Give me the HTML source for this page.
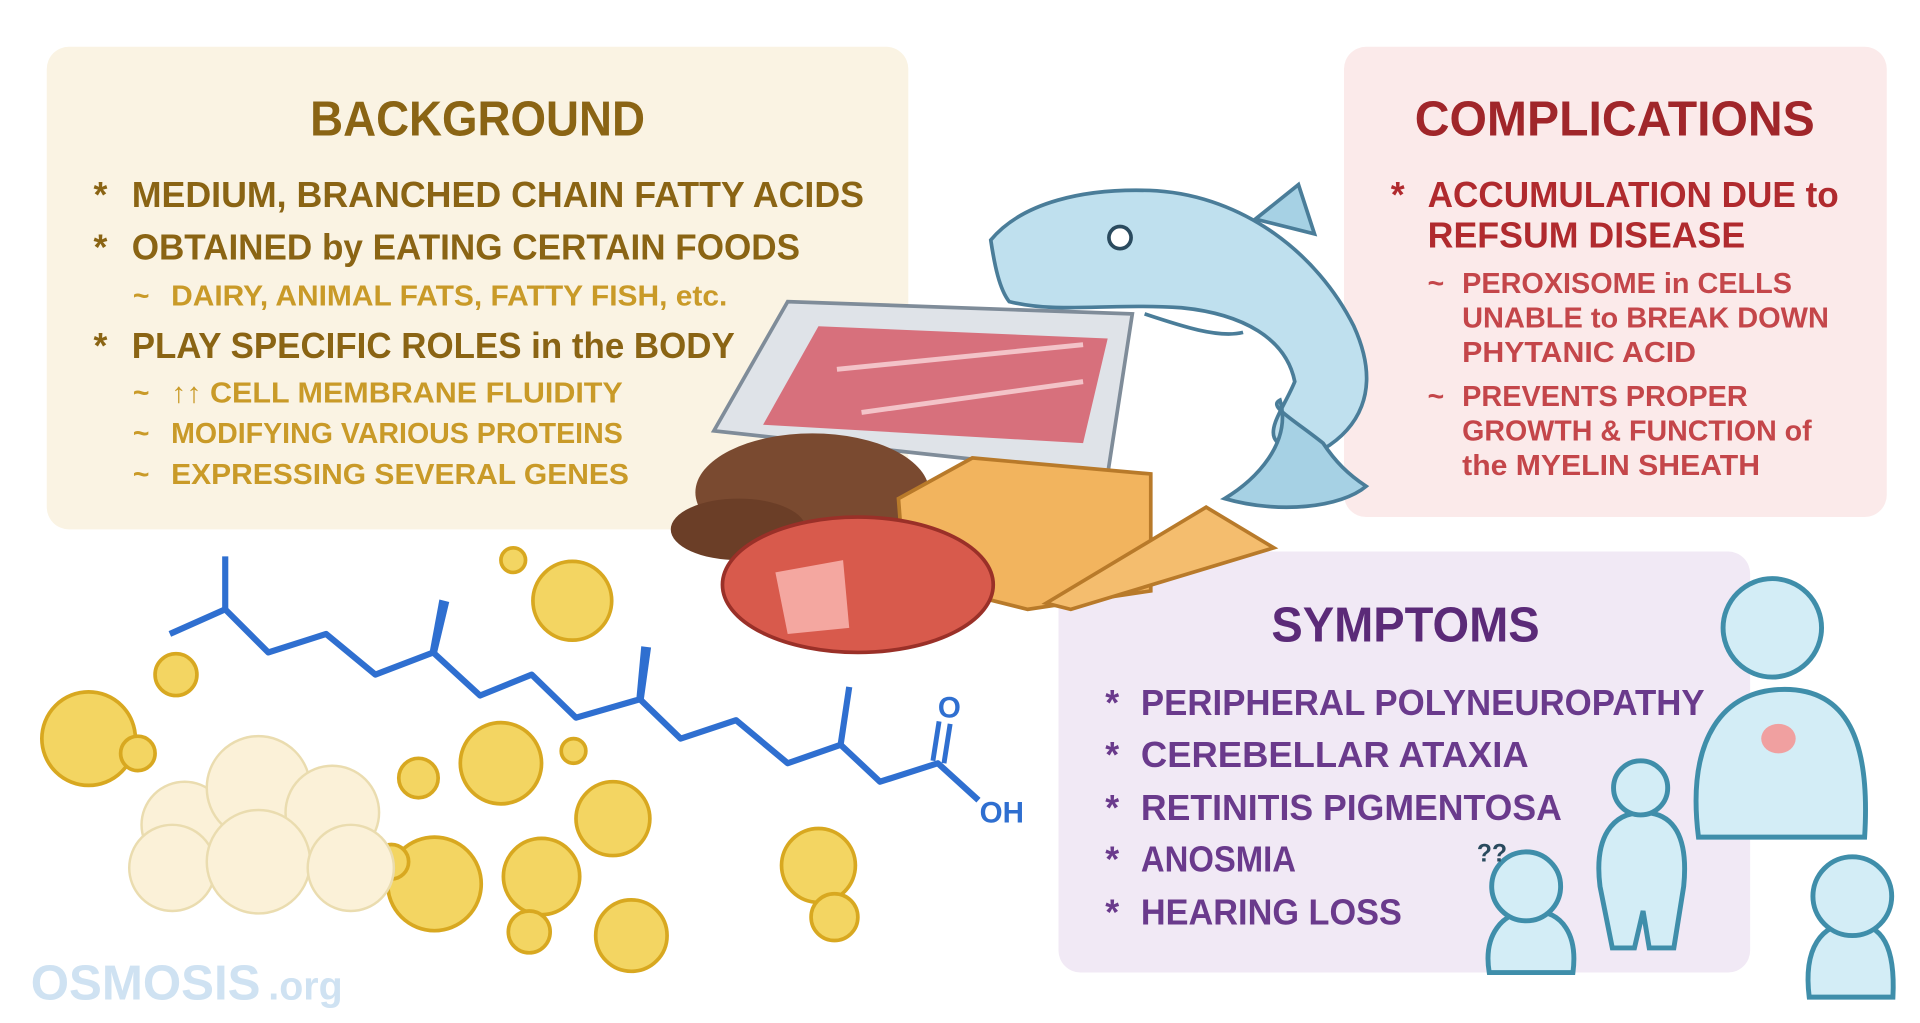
<!DOCTYPE html>
<html><head><meta charset="utf-8"><style>
html,body{margin:0;padding:0;background:#fff;}
svg{display:block;}
text{font-family:"Liberation Sans",sans-serif;font-weight:bold;}
</style></head><body>
<svg width="1920" height="1023" viewBox="0 0 1560 831" preserveAspectRatio="none">
<rect width="1560" height="831" fill="#fff"/>
<!-- boxes -->
<rect x="38" y="38" width="700" height="392" rx="18" fill="#faf3e3"/>
<rect x="1092" y="38" width="441" height="382" rx="18" fill="#fbeaea"/>
<rect x="860" y="448" width="562" height="342" rx="18" fill="#f1e9f5"/>

<!-- Background text -->
<text x="388" y="110" text-anchor="middle" font-size="40" fill="#8a6414" textLength="272" lengthAdjust="spacingAndGlyphs">BACKGROUND</text>
<g fill="#8a6414" font-size="29">
<text x="76" y="168">*</text><text x="107" y="168" textLength="595" lengthAdjust="spacingAndGlyphs">MEDIUM, BRANCHED CHAIN FATTY ACIDS</text>
<text x="76" y="211">*</text><text x="107" y="211" textLength="543" lengthAdjust="spacingAndGlyphs">OBTAINED by EATING CERTAIN FOODS</text>
<text x="76" y="291">*</text><text x="107" y="291" textLength="490" lengthAdjust="spacingAndGlyphs">PLAY SPECIFIC ROLES in the BODY</text>
</g>
<g fill="#c99a28" font-size="23">
<text x="108" y="248">~</text><text x="139" y="248" textLength="452" lengthAdjust="spacingAndGlyphs">DAIRY, ANIMAL FATS, FATTY FISH, etc.</text>
<text x="108" y="327">~</text><text x="139" y="327" textLength="367" lengthAdjust="spacingAndGlyphs">↑↑ CELL MEMBRANE FLUIDITY</text>
<text x="108" y="360">~</text><text x="139" y="360" textLength="367" lengthAdjust="spacingAndGlyphs">MODIFYING VARIOUS PROTEINS</text>
<text x="108" y="393">~</text><text x="139" y="393" textLength="372" lengthAdjust="spacingAndGlyphs">EXPRESSING SEVERAL GENES</text>
</g>

<!-- Complications -->
<text x="1312" y="110" text-anchor="middle" font-size="40" fill="#a0262a" textLength="325" lengthAdjust="spacingAndGlyphs">COMPLICATIONS</text>
<g fill="#b02a2e" font-size="29">
<text x="1130" y="168">*</text><text x="1160" y="168" textLength="334" lengthAdjust="spacingAndGlyphs">ACCUMULATION DUE to</text>
<text x="1160" y="201" textLength="258" lengthAdjust="spacingAndGlyphs">REFSUM DISEASE</text>
</g>
<g fill="#c4464a" font-size="23">
<text x="1160" y="238">~</text><text x="1188" y="238" textLength="268" lengthAdjust="spacingAndGlyphs">PEROXISOME in CELLS</text>
<text x="1188" y="266" textLength="298" lengthAdjust="spacingAndGlyphs">UNABLE to BREAK DOWN</text>
<text x="1188" y="294" textLength="190" lengthAdjust="spacingAndGlyphs">PHYTANIC ACID</text>
<text x="1160" y="330">~</text><text x="1188" y="330" textLength="232" lengthAdjust="spacingAndGlyphs">PREVENTS PROPER</text>
<text x="1188" y="358" textLength="284" lengthAdjust="spacingAndGlyphs">GROWTH &amp; FUNCTION of</text>
<text x="1188" y="386" textLength="242" lengthAdjust="spacingAndGlyphs">the MYELIN SHEATH</text>
</g>

<!-- Symptoms -->
<text x="1142" y="521" text-anchor="middle" font-size="40" fill="#5b2a78" textLength="218" lengthAdjust="spacingAndGlyphs">SYMPTOMS</text>
<g fill="#6a3a8c" font-size="29">
<text x="898" y="581">*</text><text x="927" y="581" textLength="458" lengthAdjust="spacingAndGlyphs">PERIPHERAL POLYNEUROPATHY</text>
<text x="898" y="623">*</text><text x="927" y="623" textLength="315" lengthAdjust="spacingAndGlyphs">CEREBELLAR ATAXIA</text>
<text x="898" y="666">*</text><text x="927" y="666" textLength="342" lengthAdjust="spacingAndGlyphs">RETINITIS PIGMENTOSA</text>
<text x="898" y="708">*</text><text x="927" y="708" textLength="126" lengthAdjust="spacingAndGlyphs">ANOSMIA</text>
<text x="898" y="751">*</text><text x="927" y="751" textLength="212" lengthAdjust="spacingAndGlyphs">HEARING LOSS</text>
</g>

<!-- food: tray -->
<polygon points="580,350 640,245 920,255 900,385" fill="#dfe3e8" stroke="#7f8c99" stroke-width="3"/>
<polygon points="620,345 665,265 900,275 880,360" fill="#d7707c"/>
<line x1="680" y1="300" x2="880" y2="280" stroke="#f3c3c8" stroke-width="4"/>
<line x1="700" y1="335" x2="880" y2="310" stroke="#f3c3c8" stroke-width="4"/>
<!-- fish -->
<polygon points="1020,178 1055,150 1068,190" fill="#a6d1e4" stroke="#4a7d99" stroke-width="3"/>
<path d="M805,195 C830,165 880,152 940,155 C1010,160 1070,205 1100,265 C1125,320 1100,350 1075,365 C1010,368 1040,340 1052,310 C1045,275 1010,255 960,250 C900,246 860,255 820,245 C812,235 808,215 805,195 Z" fill="#bfe0ee" stroke="#4a7d99" stroke-width="3"/>
<path d="M1075,360 C1050,340 1030,330 1040,325 C1050,360 1020,390 995,405 C1040,418 1090,412 1110,395 C1095,385 1085,375 1075,360 Z" fill="#a6d1e4" stroke="#4a7d99" stroke-width="3"/>
<path d="M930,255 C960,265 990,275 1010,270" fill="none" stroke="#4a7d99" stroke-width="3"/>
<circle cx="910" cy="193" r="9" fill="#fff" stroke="#2a4a5e" stroke-width="3"/>
<!-- ground meat -->
<ellipse cx="660" cy="400" rx="95" ry="48" fill="#7a4a30"/>
<ellipse cx="600" cy="430" rx="55" ry="25" fill="#6b3e27"/>
<!-- cheese block -->
<polygon points="730,405 790,372 935,385 935,480 835,495 735,470" fill="#f2b45e" stroke="#b87a2a" stroke-width="3"/>
<polygon points="850,490 980,412 1035,445 870,495" fill="#f4bd6e" stroke="#b87a2a" stroke-width="3"/>
<!-- wheel cheese -->
<ellipse cx="697" cy="475" rx="110" ry="55" fill="#d85a4c" stroke="#9a3028" stroke-width="3"/>
<polygon points="630,465 685,455 690,510 640,515" fill="#f4a7a0"/>

<!-- molecule -->
<polyline points="138,515 183,495 218,530 265,515 305,548 352,530 390,565 432,548 468,583 520,568 553,600 598,585 640,620 683,605 715,635 762,620 795,650" fill="none" stroke="#2f6fd0" stroke-width="5" stroke-linejoin="round"/>
<line x1="183" y1="495" x2="183" y2="452" stroke="#2f6fd0" stroke-width="5"/>
<polygon points="349,530 357,487 365,489 355,531" fill="#2f6fd0"/>
<polygon points="517,568 521,525 529,526 523,569" fill="#2f6fd0"/>
<line x1="683" y1="605" x2="690" y2="558" stroke="#2f6fd0" stroke-width="5"/>
<line x1="758" y1="618" x2="763" y2="586" stroke="#2f6fd0" stroke-width="4"/>
<line x1="767" y1="620" x2="772" y2="588" stroke="#2f6fd0" stroke-width="4"/>
<text x="762" y="583" font-size="24" fill="#2f6fd0">O</text>
<text x="796" y="668" font-size="24" fill="#2f6fd0">OH</text>

<!-- fat blobs -->
<g fill="#f3d562" stroke="#d8a820" stroke-width="3">
<circle cx="417" cy="455" r="10"/><circle cx="465" cy="488" r="32"/><circle cx="143" cy="548" r="17"/>
<circle cx="72" cy="600" r="38"/><circle cx="112" cy="612" r="14"/><circle cx="340" cy="632" r="16"/>
<circle cx="407" cy="620" r="33"/><circle cx="466" cy="610" r="10"/><circle cx="498" cy="665" r="30"/>
<circle cx="353" cy="718" r="38"/><circle cx="318" cy="700" r="14"/><circle cx="440" cy="712" r="31"/>
<circle cx="430" cy="757" r="17"/><circle cx="513" cy="760" r="29"/><circle cx="665" cy="703" r="30"/><circle cx="678" cy="745" r="19"/>
</g>
<!-- cloud fat -->
<g fill="#fbf1d8" stroke="#eadcaf" stroke-width="2">
<circle cx="150" cy="670" r="35"/><circle cx="210" cy="640" r="42"/><circle cx="270" cy="660" r="38"/>
<circle cx="140" cy="705" r="35"/><circle cx="210" cy="700" r="42"/><circle cx="285" cy="705" r="35"/>
</g>

<!-- people -->
<g fill="#d3edf6" stroke="#3f8eaa" stroke-width="4">
<path d="M1380,680 C1370,600 1400,560 1450,560 C1500,560 1520,600 1515,680 Z"/>
<circle cx="1440" cy="510" r="40"/>
<path d="M1300,720 C1295,680 1310,660 1335,660 C1360,660 1372,680 1368,720 L1360,770 L1340,770 L1335,740 L1328,770 L1310,770 Z"/>
<circle cx="1333" cy="640" r="22"/>
<path d="M1210,790 C1205,760 1220,740 1245,740 C1270,740 1282,760 1278,790 Z"/>
<circle cx="1240" cy="720" r="28"/>
<path d="M1470,810 C1465,770 1480,750 1505,750 C1530,750 1540,770 1538,810 Z"/>
<circle cx="1505" cy="728" r="32"/>
</g>
<text x="1200" y="700" font-size="20" fill="#2a4a5e">??</text>
<ellipse cx="1445" cy="600" rx="14" ry="12" fill="#f0a0a0"/>

<!-- logo -->
<text x="25" y="812" font-size="40" fill="#cfe2f2">OSMOSIS</text>
<text x="218" y="812" font-size="32" fill="#cfe2f2">.org</text>
</svg>
</body></html>
